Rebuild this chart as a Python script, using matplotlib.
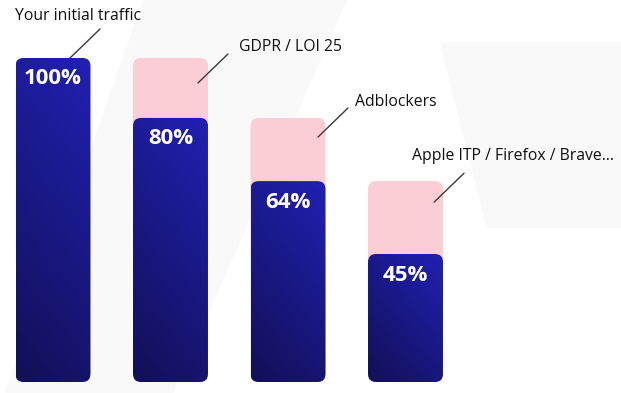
import numpy as np
import matplotlib
matplotlib.use("Agg")
import matplotlib.pyplot as plt
from matplotlib.patches import FancyBboxPatch, Polygon

# ---- data ----
stages = ["Your initial traffic", "GDPR / LOI 25", "Adblockers", "Apple ITP / Firefox / Brave\u2026"]
labels = ["100%", "80%", "64%", "45%"]
remaining = [100, 81.5, 62.0, 39.5]          # bar heights as drawn
previous = [100, 100, 81.5, 62.0]            # height before the loss (pink)

W, H, DPI = 621, 393, 100
fig = plt.figure(figsize=(W / DPI, H / DPI), dpi=DPI)
ax = fig.add_axes([0, 0, 1, 1])
ax.set_xlim(-0.451, 4.834)
ax.set_ylim(-3.395, 117.9)
ax.axis("off")

# faint background shapes (decoration, axes fraction)
def frac(pts):
    return [(x / W, 1 - y / H) for x, y in pts]
bg = "#f9f9fa"
ax.add_patch(Polygon(frac([(143, 0), (347, 0), (173, 393), (5, 393)]),
                     closed=True, transform=ax.transAxes, facecolor=bg, edgecolor="none", zorder=0))
ax.add_patch(Polygon(frac([(440, 42), (621, 42), (621, 228), (487, 228)]),
                     closed=True, transform=ax.transAxes, facecolor=bg, edgecolor="none", zorder=0))

bar_w = 0.638
px_per_x = 117.5
px_per_y = 3.24
aspect = px_per_x / px_per_y
r = 8 / px_per_x

pink = "#fbcdd5"
bright = np.array([0x21, 0x20, 0xb2]) / 255
dark = np.array([0x12, 0x10, 0x55]) / 255

def rbox(x0, y0, w, h, **kw):
    return FancyBboxPatch((x0, y0), w, h,
                          boxstyle=f"round,pad=0,rounding_size={r}",
                          mutation_aspect=aspect, **kw)

for i, (top, prev) in enumerate(zip(remaining, previous)):
    x0 = i - bar_w / 2
    if prev > top:
        ax.add_patch(rbox(x0, 0, bar_w, prev, facecolor=pink, edgecolor="none", zorder=2))
    patch = rbox(x0, 0, bar_w, top, facecolor="none", edgecolor="none", zorder=3)
    ax.add_patch(patch)
    n, m = 200, 60
    u = np.linspace(0, 1, m)[None, :]
    v = np.linspace(0, 1, n)[:, None]
    wpx, hpx = bar_w * px_per_x, top * px_per_y
    t = (u * wpx * 1.2 + v * hpx) / (wpx * 1.2 + hpx)
    img = dark[None, None, :] + t[:, :, None] * (bright - dark)[None, None, :]
    im = ax.imshow(img, extent=[x0, x0 + bar_w, 0, top], origin="lower",
                   aspect="auto", zorder=3, interpolation="bilinear")
    im.set_clip_path(patch)
    ax.annotate(labels[i], xy=(i, top), xytext=(0, -21), textcoords="offset pixels",
                ha="center", va="center", color="white", fontsize=16,
                fontweight="bold", family="Open Sans", zorder=5)

ax.set_xlim(-0.451, 4.834)
ax.set_ylim(-3.395, 117.9)

# annotation callouts
starts = [(0.145, 0.0), (0.234, 7.7), (0.255, 5.9), (0.243, 6.5)]
text_off = [(-55, 42), (41, 36), (37, 35), (-22, 46)]
for i, (dx, dy) in enumerate(starts):
    xy = (i + dx, previous[i] - dy)
    ax.annotate("", xy=xy, xytext=(30, 29), textcoords="offset pixels",
                arrowprops=dict(arrowstyle="-", color="#3a3a3a", lw=1.0,
                                shrinkA=0, shrinkB=0), zorder=6)
    ax.annotate(stages[i], xy=xy, xytext=text_off[i], textcoords="offset pixels",
                ha="left", va="center", fontsize=11.3, color="#111111",
                family="Open Sans", zorder=6)

fig.savefig("out.png", dpi=DPI)
